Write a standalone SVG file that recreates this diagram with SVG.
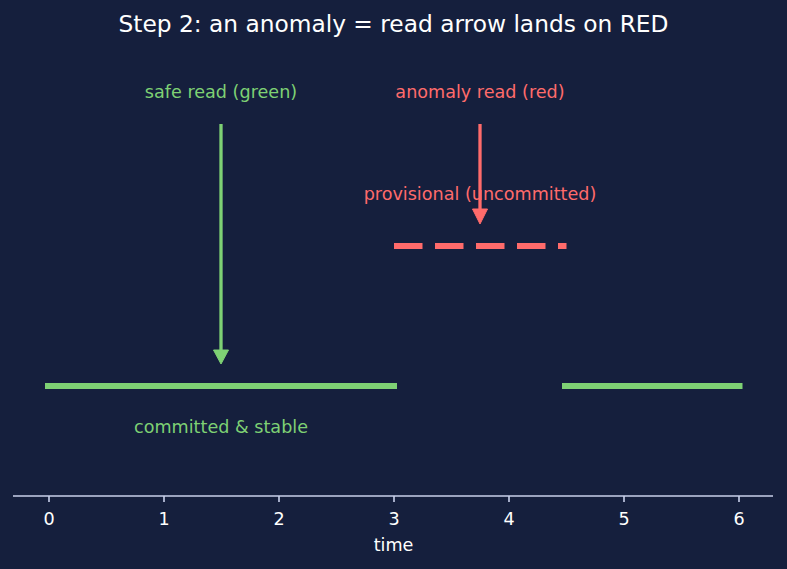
<svg xmlns="http://www.w3.org/2000/svg" width="787" height="569" viewBox="0 0 787 569">
<style>
text{font-family:"DejaVu Sans","Liberation Sans",sans-serif}
.t{fill:#ffffff;font-size:23.3px;text-anchor:middle}
.g{fill:#7ed174;font-size:17.6px;text-anchor:middle}
.r{fill:#ff6b6b;font-size:17.6px;text-anchor:middle}
.tick{fill:#ffffff;font-size:17.6px;text-anchor:middle}
.gl{stroke:#7ed174;stroke-width:6;fill:none}
.rl{stroke:#ff6b6b;stroke-width:6;fill:none}
.ax{stroke:#c8d0ea;stroke-width:1.6;fill:none}
</style>
<rect width="787" height="569" fill="#151f3d"/>
<text class="t" x="393.5" y="32">Step 2: an anomaly = read arrow lands on RED</text>
<g id="committed1"><line class="gl" x1="45" y1="386" x2="397" y2="386"/></g>
<g id="committed2"><line class="gl" x1="562" y1="386" x2="742.5" y2="386"/></g>
<g id="provisional"><line class="rl" x1="394" y1="246" x2="566.5" y2="246" stroke-dasharray="28.5 12.5"/></g>
<g id="labels">
<text class="g" x="221" y="98">safe read (green)</text>
<text class="r" x="480" y="98">anomaly read (red)</text>
<text class="r" x="480" y="200">provisional (uncommitted)</text>
<text class="g" x="221" y="433">committed &amp; stable</text>
</g>
<g id="connectors">
<line x1="221" y1="124" x2="221" y2="352" stroke="#7ed174" stroke-width="3.3"/>
<polygon points="213.5,350 228.5,350 221,364" fill="#7ed174" stroke="#7ed174" stroke-width="1" stroke-linejoin="round"/>
<line x1="480" y1="124" x2="480" y2="211" stroke="#ff6b6b" stroke-width="3.3"/>
<polygon points="472.5,209 487.5,209 480,224" fill="#ff6b6b" stroke="#ff6b6b" stroke-width="1" stroke-linejoin="round"/>
</g>
<g id="axis">
<line class="ax" x1="13" y1="496" x2="773" y2="496"/>
<path class="ax" d="M49 496v6M164 496v6M279 496v6M394 496v6M509 496v6M624 496v6M739 496v6"/>
<text class="tick" x="49" y="525">0</text>
<text class="tick" x="164" y="525">1</text>
<text class="tick" x="279" y="525">2</text>
<text class="tick" x="394" y="525">3</text>
<text class="tick" x="509" y="525">4</text>
<text class="tick" x="624" y="525">5</text>
<text class="tick" x="739" y="525">6</text>
<text class="tick" x="393.5" y="551">time</text>
</g>
</svg>
